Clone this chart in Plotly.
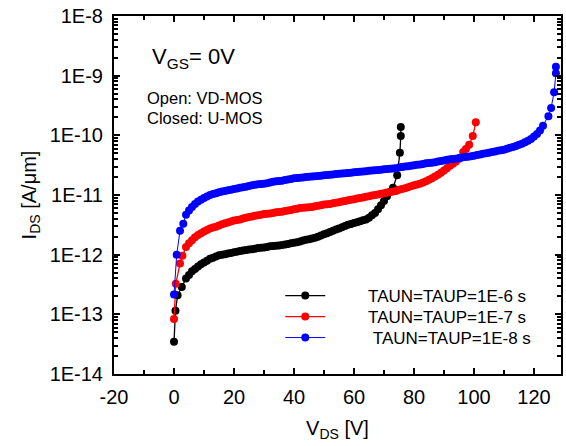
import plotly.graph_objects as go

# ---------------- data ----------------
v_1e6 = [0, 0.5, 1.2, 2.6, 4, 5, 6, 7, 8, 9, 10, 11, 12, 13, 14, 15, 16, 17, 18, 19, 20,
         21, 22, 23, 24, 25, 26, 27, 28, 29, 30, 31, 32, 33, 34, 35, 36, 37, 38, 39, 40,
         41, 42, 43, 44, 45, 46, 47, 48, 49, 50, 51, 52, 53, 54, 55, 56, 57, 58, 59, 60,
         61, 62, 63, 64, 65, 66, 67, 68, 69, 70, 71, 72, 73, 74.4, 75.3, 75.6, 75.6]
i_1e6 = [3.47e-14, 1.15e-13, 2.09e-13, 2.88e-13, 3.98e-13, 4.57e-13, 5.25e-13, 5.75e-13,
         6.31e-13, 6.92e-13, 7.41e-13, 7.94e-13, 8.51e-13, 8.91e-13, 9.33e-13, 9.77e-13,
         1.00e-12, 1.02e-12, 1.05e-12, 1.07e-12, 1.10e-12, 1.12e-12, 1.15e-12, 1.17e-12,
         1.20e-12, 1.22e-12, 1.23e-12, 1.26e-12, 1.29e-12, 1.30e-12, 1.32e-12, 1.35e-12,
         1.38e-12, 1.40e-12, 1.41e-12, 1.43e-12, 1.45e-12, 1.48e-12, 1.51e-12, 1.55e-12,
         1.58e-12, 1.62e-12, 1.66e-12, 1.72e-12, 1.78e-12, 1.82e-12, 1.86e-12, 1.93e-12,
         2.00e-12, 2.09e-12, 2.19e-12, 2.29e-12, 2.40e-12, 2.51e-12, 2.63e-12, 2.75e-12,
         2.88e-12, 3.02e-12, 3.16e-12, 3.27e-12, 3.39e-12, 3.51e-12, 3.63e-12, 3.76e-12,
         3.89e-12, 4.17e-12, 4.57e-12, 5.01e-12, 5.75e-12, 6.76e-12, 7.94e-12, 9.55e-12,
         1.12e-11, 1.32e-11, 2.14e-11, 5.13e-11, 9.77e-11, 1.38e-10]

v_1e7 = [0, 0.6, 2.0, 2.8, 4, 5, 6, 7, 8, 9, 10, 11, 12, 13, 14, 15, 16, 17, 18, 19, 20,
         21, 22, 23, 24, 25, 26, 27, 28, 29, 30, 31, 32, 33, 34, 35, 36, 37, 38, 39, 40,
         41, 42, 43, 44, 45, 46, 47, 48, 49, 50, 51, 52, 53, 54, 55, 56, 57, 58, 59, 60,
         61, 62, 63, 64, 65, 66, 67, 68, 69, 70, 71, 72, 73, 74, 75, 76, 77, 78, 79, 80,
         81, 82, 83, 84, 85, 86, 87, 88, 89, 90, 91, 92, 93, 94, 95, 96.4, 97.3, 98.4,
         99.6, 100.6]
i_1e7 = [8.32e-14, 3.24e-13, 7.08e-13, 9.55e-13, 1.35e-12, 1.55e-12, 1.74e-12, 1.95e-12,
         2.14e-12, 2.29e-12, 2.45e-12, 2.60e-12, 2.75e-12, 2.85e-12, 2.95e-12, 3.09e-12,
         3.24e-12, 3.35e-12, 3.47e-12, 3.59e-12, 3.72e-12, 3.80e-12, 3.89e-12, 4.03e-12,
         4.17e-12, 4.27e-12, 4.37e-12, 4.47e-12, 4.57e-12, 4.68e-12, 4.79e-12, 4.84e-12,
         4.90e-12, 5.01e-12, 5.13e-12, 5.19e-12, 5.25e-12, 5.37e-12, 5.50e-12, 5.62e-12,
         5.75e-12, 5.89e-12, 6.03e-12, 6.10e-12, 6.17e-12, 6.24e-12, 6.31e-12, 6.46e-12,
         6.61e-12, 6.76e-12, 6.92e-12, 7.00e-12, 7.08e-12, 7.24e-12, 7.41e-12, 7.59e-12,
         7.76e-12, 7.94e-12, 8.13e-12, 8.32e-12, 8.51e-12, 8.71e-12, 8.91e-12, 9.12e-12,
         9.33e-12, 9.55e-12, 9.77e-12, 1.00e-11, 1.02e-11, 1.05e-11, 1.07e-11, 1.10e-11,
         1.12e-11, 1.15e-11, 1.17e-11, 1.22e-11, 1.26e-11, 1.30e-11, 1.35e-11, 1.40e-11,
         1.45e-11, 1.50e-11, 1.55e-11, 1.62e-11, 1.70e-11, 1.80e-11, 1.91e-11, 2.04e-11,
         2.19e-11, 2.37e-11, 2.57e-11, 2.82e-11, 3.09e-11, 3.35e-11, 3.63e-11, 4.07e-11,
         5.25e-11, 5.89e-11, 6.92e-11, 9.77e-11, 1.66e-10]

v_1e8 = [0, 0.9, 2.0, 3.1, 4, 5, 6, 7, 8, 9, 10, 11, 12, 13, 14, 15, 16, 17, 18, 19, 20,
         21, 22, 23, 24, 25, 26, 27, 28, 29, 30, 31, 32, 33, 34, 35, 36, 37, 38, 39, 40,
         41, 42, 43, 44, 45, 46, 47, 48, 49, 50, 51, 52, 53, 54, 55, 56, 57, 58, 59, 60,
         61, 62, 63, 64, 65, 66, 67, 68, 69, 70, 71, 72, 73, 74, 75, 76, 77, 78, 79, 80,
         81, 82, 83, 84, 85, 86, 87, 88, 89, 90, 91, 92, 93, 94, 95, 96, 97, 98, 99, 100,
         101, 102, 103, 104, 105, 106, 107, 108, 109, 110, 111, 112, 113, 114, 115, 116,
         117, 118, 119, 120, 121, 122, 123, 124.8, 125.7, 126.7, 127.3, 127.3]
i_1e8 = [2.14e-13, 1.00e-12, 2.51e-12, 3.31e-12, 4.68e-12, 5.50e-12, 6.31e-12, 7.08e-12,
         7.76e-12, 8.32e-12, 8.91e-12, 9.44e-12, 1.00e-11, 1.04e-11, 1.07e-11, 1.11e-11,
         1.15e-11, 1.17e-11, 1.20e-11, 1.23e-11, 1.26e-11, 1.29e-11, 1.32e-11, 1.35e-11,
         1.38e-11, 1.41e-11, 1.45e-11, 1.48e-11, 1.51e-11, 1.53e-11, 1.55e-11, 1.58e-11,
         1.62e-11, 1.66e-11, 1.70e-11, 1.72e-11, 1.74e-11, 1.78e-11, 1.82e-11, 1.86e-11,
         1.91e-11, 1.93e-11, 1.95e-11, 1.97e-11, 2.00e-11, 2.02e-11, 2.04e-11, 2.07e-11,
         2.09e-11, 2.11e-11, 2.14e-11, 2.16e-11, 2.19e-11, 2.21e-11, 2.24e-11, 2.26e-11,
         2.29e-11, 2.32e-11, 2.34e-11, 2.37e-11, 2.40e-11, 2.43e-11, 2.45e-11, 2.48e-11,
         2.51e-11, 2.54e-11, 2.57e-11, 2.60e-11, 2.63e-11, 2.66e-11, 2.69e-11, 2.72e-11,
         2.75e-11, 2.79e-11, 2.82e-11, 2.88e-11, 2.95e-11, 2.99e-11, 3.02e-11, 3.09e-11,
         3.16e-11, 3.20e-11, 3.24e-11, 3.31e-11, 3.39e-11, 3.43e-11, 3.47e-11, 3.55e-11,
         3.63e-11, 3.72e-11, 3.80e-11, 3.89e-11, 3.98e-11, 4.03e-11, 4.07e-11, 4.17e-11,
         4.27e-11, 4.32e-11, 4.37e-11, 4.47e-11, 4.57e-11, 4.68e-11, 4.79e-11, 4.90e-11,
         5.01e-11, 5.13e-11, 5.25e-11, 5.37e-11, 5.50e-11, 5.62e-11, 5.75e-11, 5.96e-11,
         6.17e-11, 6.38e-11, 6.61e-11, 6.92e-11, 7.24e-11, 7.67e-11, 8.13e-11, 8.71e-11,
         9.55e-11, 1.05e-10, 1.20e-10, 1.45e-10, 2.09e-10, 2.88e-10, 5.25e-10, 1.10e-9,
         1.41e-9]

series_names = ["TAUN=TAUP=1E-6 s", "TAUN=TAUP=1E-7 s", "TAUN=TAUP=1E-8 s"]
series_colors = ["#000000", "#ff0000", "#0000ff"]
series_line_widths = [1.3, 1.3, 1.0]

x_tick_vals = [-20, 0, 20, 40, 60, 80, 100, 120]
x_tick_text = ["-20", "0", "20", "40", "60", "80", "100", "120"]
y_tick_vals = [1e-14, 1e-13, 1e-12, 1e-11, 1e-10, 1e-9, 1e-8]
y_tick_text = ["1E-14", "1E-13", "1E-12", "1E-11", "1E-10", "1E-9", "1E-8"]

# ---------------- figure ----------------
FONT = "Liberation Sans, Arial, Helvetica, sans-serif"
fig = go.Figure()

legend_ids = ["legend", "legend2", "legend3"]
pad = ["\u00a0" * 8, "\u00a0" * 8, "\u00a0" * 9]
for vx, iy, name, col, lw, p, lg in zip([v_1e6, v_1e7, v_1e8], [i_1e6, i_1e7, i_1e8],
                                        series_names, series_colors, series_line_widths,
                                        pad, legend_ids):
    fig.add_trace(go.Scatter(
        x=vx, y=iy, mode="lines+markers", name=p + name, legend=lg,
        line=dict(color=col, width=lw),
        marker=dict(color=col, size=8, line=dict(width=0)),
    ))

# helper traces so the overlay axes (minor ticks) exist
fig.add_trace(go.Scatter(x=[None], y=[None], xaxis="x2", yaxis="y", showlegend=False,
                         hoverinfo="skip"))
fig.add_trace(go.Scatter(x=[None], y=[None], xaxis="x", yaxis="y2", showlegend=False,
                         hoverinfo="skip"))

minor_x = [-10, 10, 30, 50, 70, 90, 110]
minor_y = [m * 10.0 ** e for e in range(-14, -8) for m in range(2, 10)]

leg_common = dict(xanchor="left", yanchor="middle", bgcolor="rgba(0,0,0,0)", borderwidth=0,
                  font=dict(family=FONT, size=17, color="black"), itemwidth=40)
X_RANGE = [-20, 129]
Y_RANGE = [-14, -8]


def py(ypix):
    return (374 - ypix) / 358


fig.update_layout(
    width=566, height=446,
    margin=dict(l=114, r=3, t=16, b=72),
    paper_bgcolor="white", plot_bgcolor="white",
    font=dict(family=FONT, size=20, color="black"),
    showlegend=True,
    legend=dict(x=(281 - 114) / 449, y=py(296), **leg_common),
    legend2=dict(x=(281 - 114) / 449, y=py(317), **leg_common),
    legend3=dict(x=(281 - 114) / 449, y=py(338), **leg_common),
    xaxis=dict(
        range=X_RANGE, tickmode="array", tickvals=x_tick_vals, ticktext=x_tick_text,
        showline=True, linecolor="black", linewidth=2, mirror="ticks",
        ticks="inside", ticklen=6, tickwidth=2, tickcolor="black",
        showgrid=False, zeroline=False,
        tickfont=dict(family=FONT, size=20),
        ticklabelstandoff=4,
        title=dict(text="V<sub>DS</sub> [V]", font=dict(family=FONT, size=20), standoff=14),
    ),
    xaxis2=dict(
        range=X_RANGE, overlaying="x", anchor="y", side="bottom",
        tickmode="array", tickvals=minor_x, showticklabels=False,
        showline=True, linecolor="black", linewidth=2, mirror="ticks",
        ticks="inside", ticklen=4, tickwidth=1.5, tickcolor="black",
        showgrid=False, zeroline=False,
    ),
    yaxis=dict(
        type="log", range=Y_RANGE,
        tickmode="array", tickvals=y_tick_vals, ticktext=y_tick_text,
        showline=True, linecolor="black", linewidth=2, mirror="ticks",
        ticks="inside", ticklen=6, tickwidth=2, tickcolor="black",
        showgrid=False, zeroline=False,
        tickfont=dict(family=FONT, size=20),
        ticklabelstandoff=5,
        title=dict(text="I<sub>DS</sub> [A/\u03bcm]", font=dict(family=FONT, size=20), standoff=8),
    ),
    yaxis2=dict(
        type="log", range=Y_RANGE, overlaying="y", anchor="x", side="left",
        tickmode="array", tickvals=minor_y, showticklabels=False,
        showline=True, linecolor="black", linewidth=2, mirror="ticks",
        ticks="inside", ticklen=4, tickwidth=1.5, tickcolor="black",
        showgrid=False, zeroline=False,
    ),
)

fig.add_annotation(
    xref="paper", yref="paper", x=(150 - 114) / 449, y=py(58),
    xanchor="left", yanchor="middle", showarrow=False,
    text="V<sub>GS</sub>= 0V", font=dict(family=FONT, size=22, color="black"),
)
fig.add_annotation(
    xref="paper", yref="paper", x=(145 - 114) / 449, y=py(98),
    xanchor="left", yanchor="middle", showarrow=False,
    text="Open: VD-MOS", font=dict(family=FONT, size=16.5, color="black"),
)
fig.add_annotation(
    xref="paper", yref="paper", x=(145 - 114) / 449, y=py(118),
    xanchor="left", yanchor="middle", showarrow=False,
    text="Closed: U-MOS", font=dict(family=FONT, size=16.5, color="black"),
)

fig.write_html("out.html")
